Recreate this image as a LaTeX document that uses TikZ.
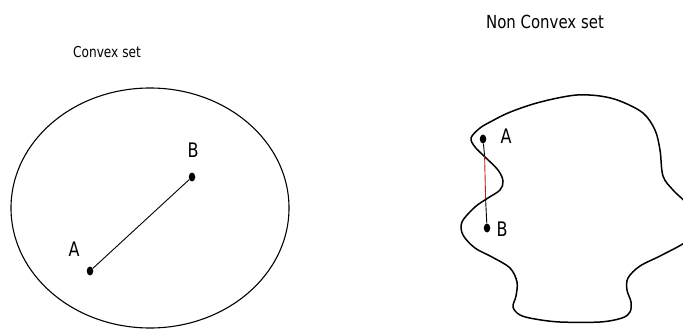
\documentclass[tikz,border=0pt]{standalone}
\usepackage{fontspec}
\setmainfont{DejaVu Sans}
\usepackage{xcolor}
\usepackage{tikz}
\usetikzlibrary{positioning,shapes.geometric}
\definecolor{segred}{RGB}{190,30,30}

\begin{document}
\begin{tikzpicture}[x=1pt, y=-1pt,
    pointdot/.style={fill=black, ellipse, inner sep=0pt, minimum width=6.5pt, minimum height=9pt},
    ptlabel/.style={font=\fontsize{20}{22}\selectfont, xscale=0.8, inner sep=0pt},
    settitle/.style={font=\fontsize{15}{17}\selectfont, xscale=0.81, inner sep=0pt},
    bigtitle/.style={font=\fontsize{18}{20}\selectfont, xscale=0.83, inner sep=0pt},
    boundary/.style={draw=black, line width=1.5pt},
    segment/.style={draw=black, line width=0.9pt},
]
    \useasboundingbox (0,0) rectangle (683,329);
    \clip (0,0) rectangle (683,329);

    % Convex set
    \node[settitle] (convtitle) at (107,52) {Convex set};
    \draw[line width=1.1pt] (150,208) ellipse [x radius=139, y radius=120];
    \node[pointdot] (cA) at (90,271) {};
    \node[pointdot] (cB) at (192,177) {};
    \node[ptlabel] (cAl) at (74,249) {A};
    \node[ptlabel] (cBl) at (193,150) {B};
    \draw[segment] (cA) -- (cB);

    % Non convex set
    \node[bigtitle] (nctitle) at (545,22) {Non Convex set};
    \draw[boundary] plot[smooth cycle, tension=0.55] coordinates {
        (471,138) (480,128) (492,121) (508,113) (530,105) (553,99) (577,95)
        (600,96) (620,101) (643,113) (655,130) (660,150) (663,176) (673,190)
        (688,205) (696,222) (688,240) (662,255) (640,266) (628,278) (627,290)
        (631,302) (630,312) (622,318) (600,322) (560,322) (535,319) (520,315)
        (513,307) (516,296) (517,282) (510,268) (492,257) (475,248) (463,235)
        (462,222) (475,207) (488,198) (500,190) (503,181) (498,170) (485,157)
        (475,147)};
    \node[pointdot] (nA) at (483,139) {};
    \node[pointdot] (nB) at (487,228) {};
    \node[ptlabel] (nAl) at (506,136) {A};
    \node[ptlabel] (nBl) at (502,229) {B};
    \coordinate (cross1) at (484.6,156);
    \coordinate (cross2) at (485.6,199);
    \draw[segment] (nA) -- (cross1);
    \draw[segment, draw=segred] (cross1) -- (cross2);
    \draw[segment] (cross2) -- (nB);
\end{tikzpicture}
\end{document}
